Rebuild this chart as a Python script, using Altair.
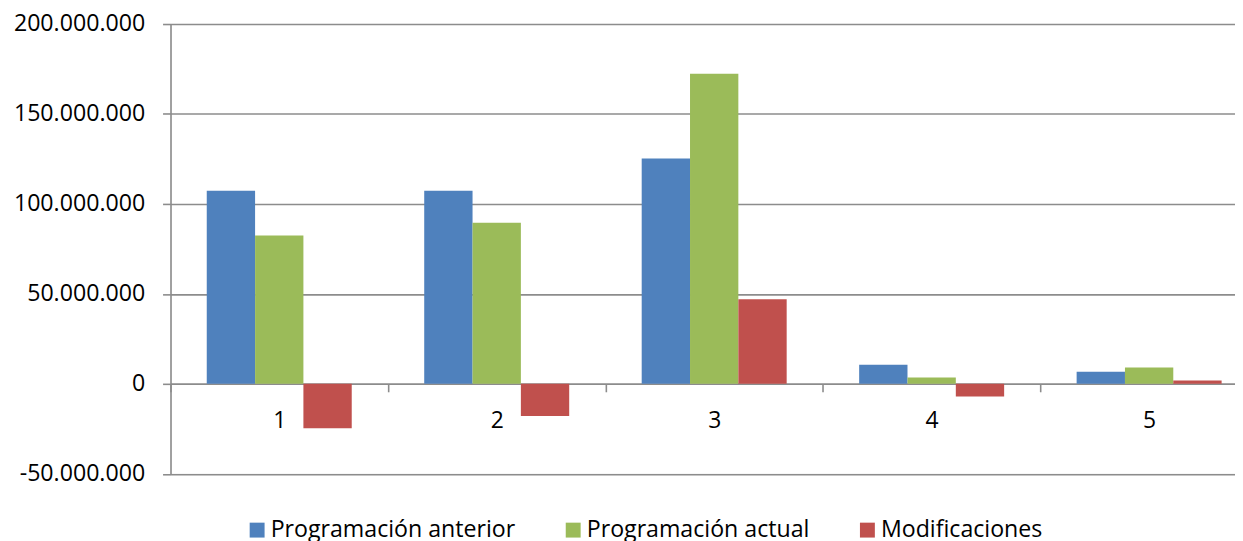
import altair as alt
import pandas as pd

categorias = ["1", "2", "3", "4", "5"]
series = ["Programación anterior", "Programación actual", "Modificaciones"]
prog_anterior = [107300000, 107300000, 125200000, 10600000, 6700000]
prog_actual = [82500000, 89500000, 172400000, 3500000, 9100000]
modificaciones = [-24700000, -17900000, 47000000, -7100000, 1900000]
colores = ["#4F81BD", "#9BBB59", "#C0504D"]
y_ticks = [-50000000, 0, 50000000, 100000000, 150000000, 200000000]

rows = []
for i, c in enumerate(categorias):
    for s, vals in zip(series, [prog_anterior, prog_actual, modificaciones]):
        rows.append({"cat": c, "serie": s, "valor": vals[i]})
df = pd.DataFrame(rows)

GRAY = "#8c8c8c"
FONT = "Open Sans"
label_expr = "replace(replace(format(datum.value, ','), /,/g, '.'), '\u2212', '-')"

chart = alt.Chart(df).mark_bar().encode(
    x=alt.X(
        "cat:N", sort=categorias,
        scale=alt.Scale(range=[0, 1094], paddingInner=0, paddingOuter=0),
        axis=alt.Axis(
            title=None, labelAngle=0, offset=-90.5, tickBand="extent",
            domain=True, domainColor=GRAY, domainWidth=1.6,
            ticks=True, tickSize=8, tickColor=GRAY, tickWidth=1.6,
            labelFont=FONT, labelFontSize=23, labelColor="black",
            labelPadding=18, grid=False,
        ),
    ),
    xOffset=alt.XOffset("serie:N", sort=series,
                        scale=alt.Scale(paddingInner=0, paddingOuter=0.75)),
    y=alt.Y(
        "valor:Q",
        scale=alt.Scale(domain=[-50000000, 200000000], nice=False, zero=False),
        axis=alt.Axis(
            title=None, values=y_ticks, labelExpr=label_expr,
            domain=True, domainColor=GRAY, domainWidth=1.6,
            ticks=True, tickSize=8, tickColor=GRAY, tickWidth=1.6,
            grid=True, gridColor=GRAY, gridWidth=1.6,
            labelFont=FONT, labelFontSize=23.3, labelColor="black",
            labelPadding=18, labelLimit=300,
        ),
    ),
    color=alt.Color(
        "serie:N", sort=series,
        scale=alt.Scale(domain=series, range=colores),
        legend=alt.Legend(
            title=None, orient="none", legendX=75.5, legendY=497.5,
            direction="horizontal", symbolType="square", symbolSize=225,
            symbolStrokeWidth=0, symbolOpacity=1,
            labelFont=FONT, labelFontSize=23.3, labelColor="black",
            labelOffset=2, columnPadding=46, padding=0, labelLimit=400,
        ),
    ),
).properties(
    width=1071,
    height=452.5,
    autosize=alt.AutoSizeParams(type="none"),
    padding={"left": 163.5, "top": 14.5, "right": 0, "bottom": 66},
).configure_view(stroke=None).configure(background="white")

chart.save("out.html", embed_options={"renderer": "svg", "actions": False})
